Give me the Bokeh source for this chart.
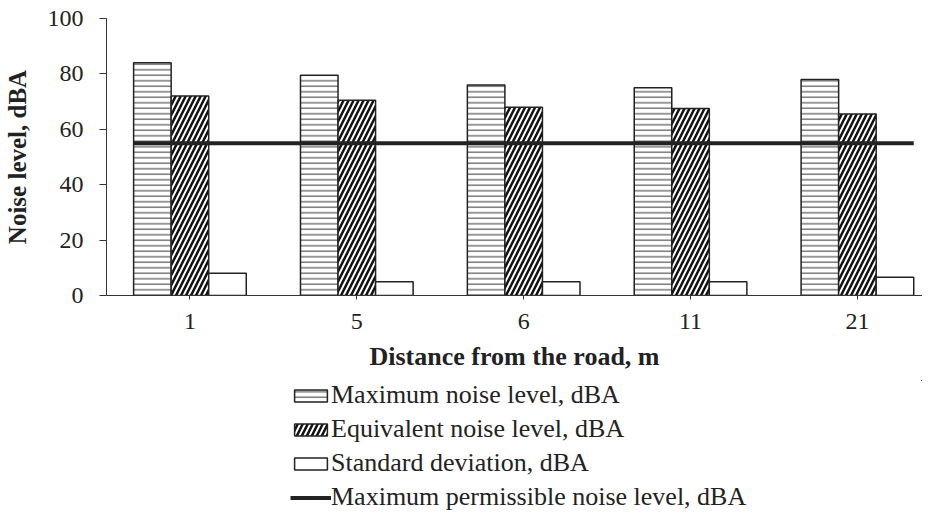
from bokeh.plotting import figure
from bokeh.layouts import column
from bokeh.models import (Range1d, FixedTicker, Legend, LegendItem, ColumnDataSource)
from bokeh.embed import file_html
from bokeh.resources import INLINE

# ---- data ----
distances = ["1", "5", "6", "11", "21"]
max_noise = [84, 79.5, 76, 75, 78]
equiv_noise = [72, 70.5, 68, 67.5, 65.5]
std_dev = [8, 5, 5, 5, 6.6]
permissible = 55
y_ticks = [0, 20, 40, 60, 80, 100]

series_labels = ["Maximum noise level, dBA", "Equivalent noise level, dBA",
                 "Standard deviation, dBA", "Maximum permissible noise level, dBA"]

# ---- layout / styles ----
BAR_W = 0.225
centers = [i + 0.5 for i in range(len(distances))]
FONT = "Liberation Serif"
INK = "#222222"
max_style = dict(fill_color="white", line_color="#222222", line_width=1.5,
                 hatch_pattern="horizontal_line", hatch_color="#333333",
                 hatch_scale=5.5, hatch_weight=1)
eq_style = dict(fill_color="white", line_color="#222222", line_width=1.5,
                hatch_pattern="right_diagonal_line", hatch_color="#111111",
                hatch_scale=10, hatch_weight=2.5)
sd_style = dict(fill_color="white", line_color="#222222", line_width=1.5)
line_style = dict(line_color=INK, line_width=4)

p = figure(width=922, height=380, output_backend="svg", toolbar_location=None,
           x_range=Range1d(0, 4.89), y_range=Range1d(0, 100),
           min_border_left=98, min_border_right=0, min_border_top=18, min_border_bottom=85)
p.outline_line_color = None
p.xgrid.grid_line_color = None
p.ygrid.grid_line_color = None

src = ColumnDataSource(dict(
    x_max=[c - BAR_W for c in centers],
    x_eq=centers,
    x_sd=[c + BAR_W for c in centers],
    max_noise=max_noise, equiv_noise=equiv_noise, std_dev=std_dev))

p.vbar(x="x_max", top="max_noise", bottom=0, width=BAR_W, source=src, **max_style)
p.vbar(x="x_eq", top="equiv_noise", bottom=0, width=BAR_W, source=src, **eq_style)
p.vbar(x="x_sd", top="std_dev", bottom=0, width=BAR_W, source=src, **sd_style)

line_x = [centers[0] - 1.5 * BAR_W, centers[-1] + 1.5 * BAR_W]
p.line(x=line_x, y=[permissible, permissible], **line_style)

# axes
xa = p.xaxis[0]
xa.ticker = FixedTicker(ticks=centers)
xa.major_label_overrides = {c: d for c, d in zip(centers, distances)}
xa.minor_tick_line_color = None
xa.major_tick_in = 0
xa.major_tick_out = 4
xa.axis_line_color = "#333333"
xa.major_tick_line_color = "#333333"
xa.major_label_text_font = FONT
xa.major_label_text_font_size = "24px"
xa.major_label_text_color = INK
xa.major_label_standoff = 14
xa.axis_label = "Distance from the road, m"
xa.axis_label_text_font = FONT
xa.axis_label_text_font_style = "bold"
xa.axis_label_text_font_size = "26px"
xa.axis_label_text_color = INK
xa.axis_label_standoff = 10

ya = p.yaxis[0]
ya.ticker = FixedTicker(ticks=y_ticks)
ya.minor_tick_line_color = None
ya.major_tick_in = 0
ya.major_tick_out = 7
ya.axis_line_color = "#333333"
ya.major_tick_line_color = "#333333"
ya.major_label_text_font = FONT
ya.major_label_text_font_size = "24px"
ya.major_label_text_color = INK
ya.major_label_standoff = 16
ya.axis_label = "Noise level, dBA"
ya.axis_label_text_font = FONT
ya.axis_label_text_font_style = "bold"
ya.axis_label_text_font_size = "25px"
ya.axis_label_text_color = INK
ya.axis_label_standoff = 14

# ---- legend (separate strip below the chart; its glyphs sit outside its view) ----
lg = figure(width=922, height=132, output_backend="svg", toolbar_location=None,
            x_range=Range1d(-20, -19), y_range=Range1d(-20, -19),
            x_axis_type=None, y_axis_type=None, min_border=0)
lg.outline_line_color = None
l_max = lg.vbar(x="x_max", top="max_noise", bottom=0, width=BAR_W, source=src, **max_style)
l_eq = lg.vbar(x="x_eq", top="equiv_noise", bottom=0, width=BAR_W, source=src, **eq_style)
l_sd = lg.vbar(x="x_sd", top="std_dev", bottom=0, width=BAR_W, source=src, **sd_style)
l_line = lg.line(x=line_x, y=[permissible, permissible], **line_style)

legend = Legend(items=[LegendItem(label=series_labels[0], renderers=[l_max]),
                       LegendItem(label=series_labels[1], renderers=[l_eq]),
                       LegendItem(label=series_labels[2], renderers=[l_sd]),
                       LegendItem(label=series_labels[3], renderers=[l_line])],
                orientation="vertical", location=(184, 0))
legend.border_line_color = None
legend.background_fill_alpha = 0
legend.label_text_font = FONT
legend.label_text_font_size = "26px"
legend.label_text_color = INK
legend.glyph_width = 41
legend.glyph_height = 15
legend.label_standoff = 0
legend.spacing = 4
legend.padding = 0
legend.margin = 0
lg.add_layout(legend, "center")

layout = column(p, lg, spacing=0)
open("out.html", "w").write(file_html(layout, INLINE))
